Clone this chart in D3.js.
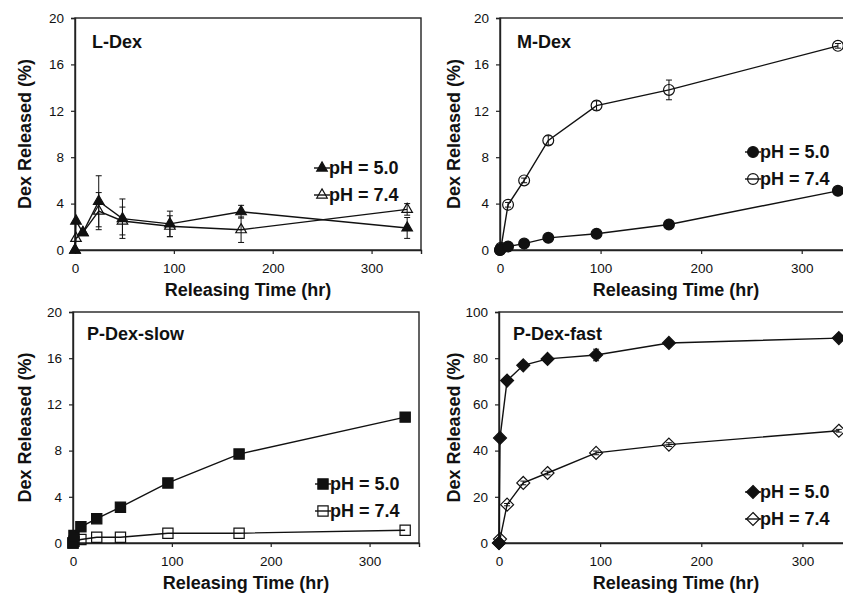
<!DOCTYPE html>
<html>
<head>
<meta charset="utf-8">
<script src="https://cdn.jsdelivr.net/npm/d3@7"></script>
<style>
  body { margin: 0; background: #fff; }
  svg { display: block; }
  text { font-family: "Liberation Sans", Arial, sans-serif; fill: #111; }
</style>
</head>
<body>
<svg id="chart" width="843" height="593"></svg>
<script>
// ---------- data ----------
const times = [0, 1, 8, 24, 48, 96, 168, 336];
const xTicks = [0, 100, 200, 300];
const yTicksLow = [0, 4, 8, 12, 16, 20];
const yTicksHigh = [0, 20, 40, 60, 80, 100];
const panelTitles = ["L-Dex", "M-Dex", "P-Dex-slow", "P-Dex-fast"];
const seriesNames = ["pH = 5.0", "pH = 7.4"];
const xTitle = "Releasing Time (hr)";
const yTitle = "Dex Released (%)";

const lDexPH50 = [0, 2.5, 1.5, 4.2, 2.7, 2.25, 3.3, 1.9];
const lDexPH50Err = [0, 0, 0.2, 2.2, 1.7, 1.1, 0.55, 0.9];
const lDexPH74 = [0, 1.0, 1.5, 3.35, 2.5, 2.05, 1.75, 3.5];
const lDexPH74Err = [0, 0, 0.2, 1.6, 1.2, 0.9, 1.1, 0.5];

const mDexPH50 = [0, 0.1, 0.3, 0.55, 1.05, 1.4, 2.2, 5.1];
const mDexPH50Err = [0, 0, 0, 0.1, 0.15, 0.2, 0.35, 0.2];
const mDexPH74 = [0, 0.2, 3.9, 6.0, 9.45, 12.45, 13.8, 17.6];
const mDexPH74Err = [0, 0, 0.2, 0.2, 0.4, 0.4, 0.85, 0.2];

const pSlowPH50 = [0, 0.65, 1.4, 2.1, 3.1, 5.2, 7.7, 10.9];
const pSlowPH50Err = [0, 0, 0, 0, 0.1, 0.15, 0.1, 0.15];
const pSlowPH74 = [0, 0.15, 0.3, 0.5, 0.5, 0.85, 0.85, 1.1];
const pSlowPH74Err = [0, 0, 0, 0, 0, 0, 0, 0];

const pFastPH50 = [0, 45.5, 70.3, 76.9, 79.7, 81.4, 86.6, 88.7];
const pFastPH50Err = [0, 0, 0.8, 1.0, 1.0, 2.5, 1.0, 0.8];
const pFastPH74 = [0, 1.7, 16.6, 26.0, 30.3, 39.0, 42.6, 48.6];
const pFastPH74Err = [0, 0, 0.5, 0.8, 0.8, 0.8, 0.8, 0.6];

// ---------- layout ----------
const layout = [
  { left: 75,  right: 421, top: 18,  bottom: 250, ymax: 20,  yticks: yTicksLow,  yTitleX: 31,  legX: 322, legY: 174, titleX: 92,  titleY: 48 },
  { left: 500, right: 852, top: 18,  bottom: 250, ymax: 20,  yticks: yTicksLow,  yTitleX: 460, legX: 753, legY: 158, titleX: 517, titleY: 48 },
  { left: 73,  right: 419, top: 312, bottom: 543, ymax: 20,  yticks: yTicksLow,  yTitleX: 31,  legX: 323, legY: 490, titleX: 87,  titleY: 340 },
  { left: 499, right: 853, top: 312, bottom: 543, ymax: 100, yticks: yTicksHigh, yTitleX: 460, legX: 753, legY: 498, titleX: 513, titleY: 340 }
];

const diamond = {
  draw(ctx, size) {
    const r = Math.sqrt(size / 2);
    ctx.moveTo(0, -r); ctx.lineTo(r, 0); ctx.lineTo(0, r); ctx.lineTo(-r, 0); ctx.closePath();
  }
};

const panels = [
  { series: [ { v: lDexPH50, e: lDexPH50Err, filled: true }, { v: lDexPH74, e: lDexPH74Err, filled: false } ], sym: d3.symbolTriangle, size: 48 },
  { series: [ { v: mDexPH50, e: mDexPH50Err, filled: true }, { v: mDexPH74, e: mDexPH74Err, filled: false } ], sym: d3.symbolCircle, size: 92 },
  { series: [ { v: pSlowPH50, e: pSlowPH50Err, filled: true }, { v: pSlowPH74, e: pSlowPH74Err, filled: false } ], sym: d3.symbolSquare, size: 105 },
  { series: [ { v: pFastPH50, e: pFastPH50Err, filled: true }, { v: pFastPH74, e: pFastPH74Err, filled: false } ], sym: diamond, size: 84 }
];

const svg = d3.select("#chart");
const INK = "#111";

panels.forEach((p, i) => {
  const L = layout[i];
  const x = d3.scaleLinear().domain([0, 350]).range([L.left, L.right]);
  const y = d3.scaleLinear().domain([0, L.ymax]).range([L.bottom, L.top]);
  const g = svg.append("g");

  // frame
  g.append("rect")
    .attr("x", L.left).attr("y", L.top)
    .attr("width", L.right - L.left).attr("height", L.bottom - L.top)
    .attr("fill", "none").attr("stroke", "#222").attr("stroke-width", 1.4);

  // axes
  const xa = g.append("g").attr("transform", `translate(0,${L.bottom})`)
    .call(d3.axisBottom(x).tickValues(xTicks).tickSize(4).tickPadding(9).tickFormat(d3.format("d")));
  const ya = g.append("g").attr("transform", `translate(${L.left},0)`)
    .call(d3.axisLeft(y).tickValues(L.yticks).tickSize(4).tickPadding(7).tickFormat(d3.format("d")));
  [xa, ya].forEach(a => {
    a.select(".domain").attr("stroke", "#222").attr("stroke-width", 1.4);
    a.selectAll(".tick line").attr("stroke", "#222").attr("stroke-width", 1.2);
    a.selectAll(".tick text").attr("font-size", 13.5).attr("fill", "#222")
      .style("font-family", '"Liberation Sans", Arial, sans-serif');
  });

  // axis titles
  g.append("text")
    .attr("x", (L.left + L.right) / 2).attr("y", L.bottom + 46)
    .attr("text-anchor", "middle").attr("font-size", 18).attr("font-weight", "bold")
    .text(xTitle);
  g.append("text")
    .attr("transform", `translate(${L.yTitleX},${(L.top + L.bottom) / 2}) rotate(-90)`)
    .attr("text-anchor", "middle").attr("font-size", 18).attr("font-weight", "bold")
    .text(yTitle);

  // panel title
  g.append("text").attr("x", L.titleX).attr("y", L.titleY)
    .attr("font-size", 18).attr("font-weight", "bold").text(panelTitles[i]);

  const line = d3.line().x((d, k) => x(times[k])).y(d => y(d));
  const sym = d3.symbol().type(p.sym).size(p.size);

  // draw open series first so filled sits on top similar to reference
  [1, 0].forEach(si => {
    const s = p.series[si];
    // error bars
    const eg = g.append("g").attr("stroke", INK).attr("stroke-width", 1);
    s.v.forEach((v, k) => {
      const e = s.e[k];
      if (!e) return;
      const cx = x(times[k]);
      eg.append("line").attr("x1", cx).attr("x2", cx).attr("y1", y(v - e)).attr("y2", y(v + e));
      eg.append("line").attr("x1", cx - 3).attr("x2", cx + 3).attr("y1", y(v - e)).attr("y2", y(v - e));
      eg.append("line").attr("x1", cx - 3).attr("x2", cx + 3).attr("y1", y(v + e)).attr("y2", y(v + e));
    });
    g.append("path").datum(s.v).attr("d", line)
      .attr("fill", "none").attr("stroke", INK).attr("stroke-width", 1.4);
    g.selectAll(null).data(s.v).enter().append("path")
      .attr("d", sym)
      .attr("transform", (d, k) => `translate(${x(times[k])},${y(d)})`)
      .attr("fill", s.filled ? INK : "none")
      .attr("stroke", INK).attr("stroke-width", 1.2);
  });

  // legend
  seriesNames.forEach((name, si) => {
    const ly = L.legY + si * 27;
    const my = ly - 6;
    g.append("line").attr("x1", L.legX - 8).attr("x2", L.legX + 8)
      .attr("y1", my).attr("y2", my).attr("stroke", INK).attr("stroke-width", 1.4);
    g.append("path").attr("d", sym)
      .attr("transform", `translate(${L.legX},${my})`)
      .attr("fill", p.series[si].filled ? INK : "none")
      .attr("stroke", INK).attr("stroke-width", 1.2);
    g.append("text").attr("x", L.legX + 7).attr("y", ly)
      .attr("font-size", 18).attr("font-weight", "bold").text(name);
  });
});
</script>
</body>
</html>
